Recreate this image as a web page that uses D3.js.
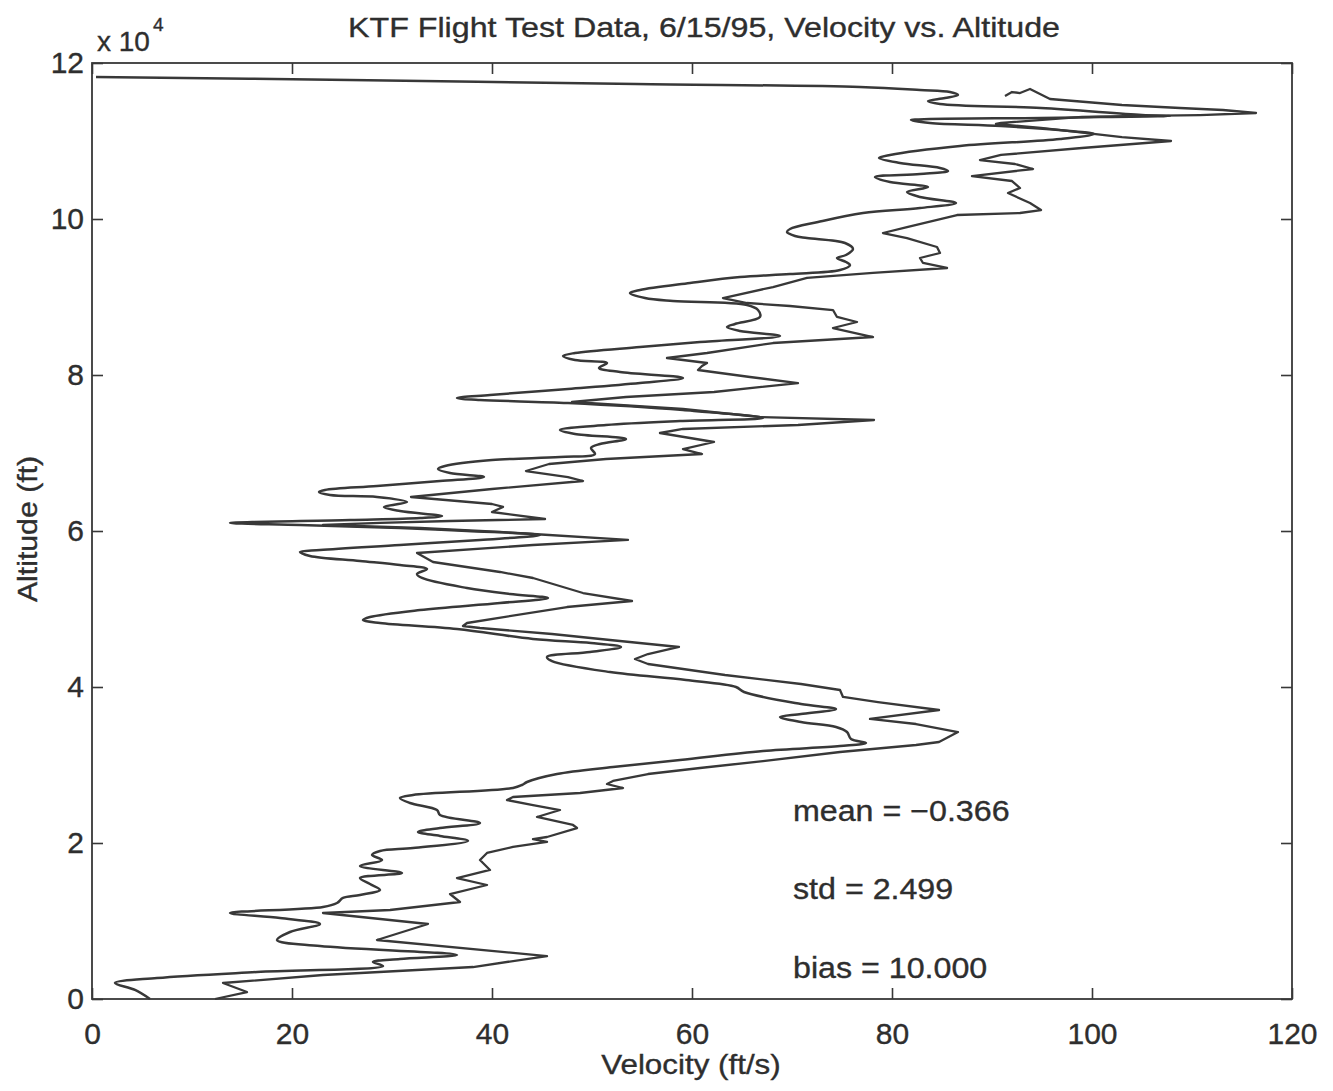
<!DOCTYPE html>
<html>
<head>
<meta charset="utf-8">
<script src="https://cdn.jsdelivr.net/npm/d3@7"></script>
<style>
  html, body { margin: 0; padding: 0; background: #ffffff; }
  svg { display: block; }
  text { font-family: "Liberation Sans", Arial, Helvetica, sans-serif; fill: #2e2e2e; stroke: #2e2e2e; stroke-width: 0.35px; }
</style>
</head>
<body>
<svg id="chart" width="1333" height="1091"></svg>
<script>
// Smooth velocity profile (ft/s) against altitude (ft)
const velocityA = [0.4, 25.8, 54.4, 76.8, 82.8, 85.8, 86.6, 85.3, 83.6, 84.8,
  94.9, 105.0, 107.8, 100.8, 94.9, 83.8, 81.9, 83.8, 90.9, 97.8,
  100.2, 96.8, 86.8, 79.8, 78.7, 80.8, 84.8, 85.6, 82.8, 78.3,
  79.8, 83.6, 81.5, 82.8, 86.4, 82.8, 77.1, 72.6, 69.8, 69.5,
  70.3, 71.5, 75.3, 76.1, 75.4, 74.5, 75.4, 75.8, 74.8, 69.8,
  64.8, 59.8, 54.8, 53.8, 55.3, 58.1, 65.5, 66.6, 66.8, 64.3,
  63.5, 64.8, 68.8, 60.8, 54.8, 48.3, 47.1, 48.3, 51.5, 50.7,
  52.8, 59.1, 54.8, 47.6, 39.8, 36.5, 38.8, 47.6, 59.1, 67.1,
  58.8, 51.4, 46.8, 48.3, 53.4, 50.8, 49.9, 50.3, 46.8, 40.0,
  35.3, 34.6, 35.8, 39.2, 34.8, 28.5, 23.3, 22.7, 23.8, 28.5,
  31.5, 29.2, 30.8, 35.0, 32.8, 25.8, 13.8, 20.8, 30.8, 37.5,
  44.8, 38.8, 30.8, 22.8, 20.8, 21.8, 26.8, 30.8, 33.5, 32.5,
  33.0, 37.5, 41.8, 45.6, 40.8, 32.8, 27.8, 27.1, 28.8, 36.5,
  44.1, 49.9, 52.9, 49.8, 45.5, 46.0, 51.8, 59.4, 64.4, 65.2,
  70.9, 74.4, 70.9, 68.8, 70.9, 74.4, 75.5, 75.9, 77.4, 74.8,
  67.1, 58.8, 52.1, 46.5, 43.5, 43.0, 42.1, 32.1, 30.8, 31.8,
  34.5, 34.8, 38.8, 34.8, 32.6, 34.8, 37.6, 32.1, 28.8, 28.0,
  29.0, 26.8, 31.0, 26.8, 27.8, 28.8, 26.8, 25.1, 24.5, 23.1,
  13.8, 18.8, 22.8, 19.8, 18.5, 22.8, 36.5, 30.8, 28.1, 29.1,
  16.5, 6.5, 2.3, 4.3, 5.8];
const altitudeA = [118200, 117820, 117310, 116920, 116540, 116280, 115900, 115510, 115130, 114740,
  114230, 113330, 113210, 113080, 112950, 112820, 112690, 112310, 111920, 111280,
  110900, 110260, 109360, 108210, 107820, 107180, 106540, 106150, 105770, 105380,
  104740, 104100, 103460, 102820, 102050, 101410, 100770, 99615, 98720, 98330,
  97820, 97560, 96920, 96150, 95380, 95000, 94490, 94100, 93460, 92950,
  92560, 91795, 90900, 90510, 89870, 89490, 88970, 88330, 87440, 86540,
  86150, 85640, 85000, 84230, 83590, 82820, 82440, 81920, 81540, 80900,
  80385, 79615, 78970, 78205, 77435, 77050, 76795, 76410, 75510, 74490,
  74100, 73590, 72950, 72435, 71795, 71155, 70640, 69870, 69490, 69100,
  68330, 67950, 67435, 66920, 66410, 65770, 65260, 65000, 64615, 64360,
  63720, 63080, 62565, 61920, 61670, 61410, 61030, 60770, 60385, 60000,
  59490, 58850, 58205, 57560, 57310, 56795, 56155, 55640, 55130, 54490,
  53975, 52690, 51920, 51410, 50770, 49870, 48975, 48590, 48205, 47435,
  46155, 45640, 45130, 44490, 43845, 43330, 41920, 40900, 40000, 39360,
  37820, 37180, 36540, 36155, 35510, 34870, 34230, 33330, 32820, 32435,
  31795, 30640, 29740, 28845, 27820, 27435, 27050, 26155, 25770, 25130,
  24230, 23590, 22565, 21920, 21410, 20900, 20255, 19360, 18975, 18460,
  17820, 17050, 16155, 15510, 14745, 13975, 13335, 12950, 12310, 11795,
  11025, 10385, 9615, 8590, 7565, 6795, 5640, 5130, 4745, 4230,
  3460, 2690, 2050, 1155, 0];

// Measured (noisy) velocity profile, offset by the bias
const velocityB = [91.3, 92.0, 92.8, 93.8, 94.4, 95.8, 103.0, 108.8, 113.1, 116.4,
  110.8, 105.0, 99.0, 90.9, 90.4, 94.9, 103.0, 107.9, 99.0, 90.9,
  88.8, 92.3, 94.1, 88.0, 92.0, 92.8, 91.6, 93.8, 94.9, 92.8,
  86.5, 81.5, 79.1, 81.5, 84.5, 84.8, 82.8, 83.1, 85.5, 78.1,
  71.5, 68.1, 63.1, 65.5, 69.8, 74.1, 74.5, 76.5, 74.1, 78.1,
  68.1, 61.5, 57.5, 61.5, 61.0, 60.6, 65.8, 70.6, 62.2, 53.4,
  48.0, 59.1, 66.8, 78.2, 70.6, 59.1, 56.8, 62.2, 59.1, 61.0,
  51.4, 45.7, 43.4, 47.6, 49.1, 40.0, 31.9, 40.0, 41.1, 40.0,
  45.3, 35.8, 28.8, 23.1, 32.8, 40.8, 44.1, 53.6, 44.1, 32.5,
  34.1, 40.8, 44.1, 49.1, 54.0, 47.5, 37.5, 37.1, 38.8, 46.0,
  51.8, 58.7, 55.6, 54.3, 55.6, 63.3, 70.9, 74.8, 75.1, 78.6,
  84.7, 77.8, 82.4, 86.6, 84.7, 82.4, 74.8, 67.1, 60.8, 55.6,
  52.1, 51.5, 53.1, 48.8, 42.1, 41.5, 44.1, 46.8, 44.5, 48.1,
  48.5, 45.5, 44.1, 45.5, 42.1, 39.5, 38.8, 39.8, 36.5, 39.5,
  35.8, 36.8, 29.8, 23.1, 33.6, 28.5, 45.5, 38.1, 23.1, 13.1,
  15.5, 12.3];
const altitudeB = [115770, 116280, 116150, 116670, 116280, 115385, 114615, 114230, 113975, 113590,
  113330, 113210, 113080, 112310, 112180, 111670, 110510, 110000, 109100, 108210,
  107560, 107050, 106410, 105510, 104870, 103970, 103330, 102050, 101150, 100770,
  100510, 98970, 98205, 97560, 96410, 95640, 95000, 94360, 93720, 93080,
  92440, 91280, 89870, 89230, 88845, 88330, 87440, 86795, 86025, 84870,
  84100, 82820, 82180, 81540, 81155, 80640, 79745, 78970, 77820, 77180,
  76540, 75640, 74615, 74230, 73590, 73080, 72565, 71410, 70510, 69870,
  69230, 68590, 67690, 66920, 66410, 65385, 64360, 63460, 63080, 62435,
  61540, 61280, 61030, 60770, 60385, 59870, 59615, 58850, 58205, 57180,
  56025, 54745, 53975, 52050, 51025, 50255, 48205, 47820, 47565, 46795,
  46025, 45130, 44230, 43590, 42950, 41540, 40385, 39615, 38720, 38075,
  37050, 35900, 35255, 34230, 32950, 32565, 31665, 30510, 29615, 28845,
  27950, 27565, 27050, 26410, 25900, 25510, 24870, 24230, 23335, 22310,
  21920, 20770, 20510, 20130, 19490, 18720, 17820, 16540, 15510, 14615,
  13460, 12435, 11410, 11025, 9615, 7565, 5510, 4100, 3075, 2050,
  895, 0];

// Axis ticks and labels
const velocityTicks = [0, 20, 40, 60, 80, 100, 120];
const altitudeTicks = [0, 20000, 40000, 60000, 80000, 100000, 120000];
const altitudeTickLabels = ["0", "2", "4", "6", "8", "10", "12"];

// Text
const titleText = "KTF Flight Test Data, 6/15/95, Velocity vs. Altitude";
const xLabelText = "Velocity (ft/s)";
const yLabelText = "Altitude (ft)";
const statsLabels = ["mean = \u22120.366", "std = 2.499", "bias = 10.000"];

(function draw() {
  const svg = d3.select("#chart");
  const plotLeft = 92, plotRight = 1292, plotTop = 63, plotBottom = 999;
  const ink = "#383838";

  const x = d3.scaleLinear().domain([0, 120]).range([plotLeft, plotRight]);
  const y = d3.scaleLinear().domain([0, 120000]).range([plotBottom, plotTop]);

  // Profiles
  const toPoints = (vs, as) => vs.map((v, i) => ({ v, a: as[i] }));
  const smoothLine = d3.line().x(d => x(d.v)).y(d => y(d.a)).curve(d3.curveCatmullRom.alpha(0.5));
  const rawLine = d3.line().x(d => x(d.v)).y(d => y(d.a)).curve(d3.curveLinear);

  svg.append("path")
    .attr("d", smoothLine(toPoints(velocityA, altitudeA)))
    .attr("fill", "none").attr("stroke", ink).attr("stroke-width", 2.5)
    .attr("stroke-linejoin", "round");
  svg.append("path")
    .attr("d", rawLine(toPoints(velocityB, altitudeB)))
    .attr("fill", "none").attr("stroke", ink).attr("stroke-width", 2.3)
    .attr("stroke-linejoin", "round");

  // Axes with inward ticks on all four sides
  const tickLen = 11;
  const styleAxis = g => {
    g.select(".domain").remove();
    g.selectAll(".tick line").attr("stroke", ink).attr("stroke-width", 1.6);
    g.selectAll(".tick text").attr("fill", "#2e2e2e")
      .style("font-family", "'Liberation Sans', Arial, Helvetica, sans-serif")
      .style("font-size", "30px");
  };

  svg.append("g").attr("transform", `translate(0,${plotBottom})`)
    .call(d3.axisBottom(x).tickValues(velocityTicks).tickSizeInner(-tickLen).tickSizeOuter(0).tickPadding(24))
    .call(styleAxis);
  svg.append("g").attr("transform", `translate(0,${plotTop})`)
    .call(d3.axisTop(x).tickValues(velocityTicks).tickSizeInner(-tickLen).tickSizeOuter(0).tickFormat(""))
    .call(styleAxis);
  svg.append("g").attr("transform", `translate(${plotLeft},0)`)
    .call(d3.axisLeft(y).tickValues(altitudeTicks).tickSizeInner(-tickLen).tickSizeOuter(0).tickPadding(8)
      .tickFormat((d, i) => altitudeTickLabels[i]))
    .call(styleAxis);
  svg.append("g").attr("transform", `translate(${plotRight},0)`)
    .call(d3.axisRight(y).tickValues(altitudeTicks).tickSizeInner(-tickLen).tickSizeOuter(0).tickFormat(""))
    .call(styleAxis);

  // Frame
  svg.append("rect")
    .attr("x", plotLeft).attr("y", plotTop)
    .attr("width", plotRight - plotLeft).attr("height", plotBottom - plotTop)
    .attr("fill", "none").attr("stroke", ink).attr("stroke-width", 1.8);

  // Widen glyphs to the plotting font's proportions
  const widen = (sel, factor) => sel.each(function () {
    const w = this.getComputedTextLength();
    d3.select(this).attr("textLength", w * factor).attr("lengthAdjust", "spacingAndGlyphs");
  });

  // Title
  svg.append("text").attr("x", 704).attr("y", 37).attr("text-anchor", "middle")
    .style("font-size", "28px").text(titleText)
    .attr("textLength", 712).attr("lengthAdjust", "spacingAndGlyphs");

  // Exponent marker
  const expo = svg.append("text").attr("x", 97).attr("y", 51).style("font-size", "28px");
  expo.append("tspan").text("x 10");
  expo.append("tspan").attr("dx", 3).attr("dy", -20).style("font-size", "19px").text("4");

  // Axis labels
  svg.append("text").attr("x", 691).attr("y", 1074).attr("text-anchor", "middle")
    .style("font-size", "28px").text(xLabelText).call(widen, 1.12);
  svg.append("text").attr("transform", "translate(37,529) rotate(-90)").attr("text-anchor", "middle")
    .style("font-size", "28px").text(yLabelText).call(widen, 1.08);

  // Statistics annotations
  const statsY = [821, 899, 978];
  svg.selectAll("text.stat").data(statsLabels).enter().append("text")
    .attr("class", "stat")
    .attr("x", 793).attr("y", (d, i) => statsY[i])
    .style("font-size", "29px")
    .text(d => d)
    .call(widen, 1.11);
})();
</script>
</body>
</html>
